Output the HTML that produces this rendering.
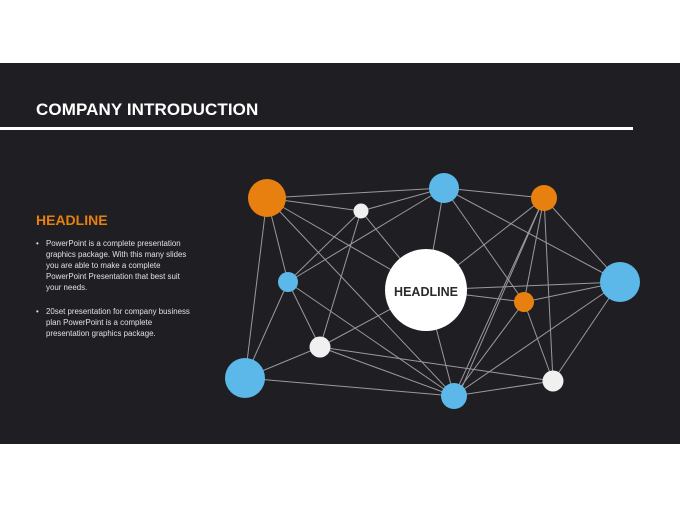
<!DOCTYPE html>
<html><head><meta charset="utf-8"><style>
body{margin:0;width:680px;height:510px;background:#fff;position:relative;overflow:hidden;font-family:"Liberation Sans",sans-serif}
.band{position:absolute;left:0;top:63px;width:680px;height:381px;background:#1f1e23}
.title{position:absolute;left:36px;top:100px;color:#fff;font-size:17px;font-weight:bold;letter-spacing:0.1px}
.rule{position:absolute;left:0;top:127px;width:633px;height:3px;background:#fff}
.hd{position:absolute;left:36px;top:212px;color:#e8800f;font-size:14px;font-weight:bold}
ul{position:absolute;left:36px;top:238px;margin:0;padding:0 0 0 10px;width:200px;color:#e0e0e0;font-size:7.9px;line-height:11px;list-style:none;white-space:nowrap}
li{position:relative;margin-bottom:13px}
li:before{content:"•";position:absolute;left:-10px}
</style></head><body>
<div class="band"></div>
<div class="title">COMPANY INTRODUCTION</div>
<div class="rule"></div>
<div class="hd">HEADLINE</div>
<ul><li>PowerPoint is a complete presentation<br>graphics package. With this many slides<br>you are able to make a complete<br>PowerPoint Presentation that best suit<br>your needs.</li>
<li>20set presentation for company business<br>plan PowerPoint is a complete<br>presentation graphics package.</li></ul>
<svg width="680" height="510" style="position:absolute;left:0;top:0">
<g stroke="#9a9a9e" stroke-width="1">
<line x1="267" y1="198" x2="444" y2="188"/><line x1="267" y1="198" x2="361" y2="211"/>
<line x1="267" y1="198" x2="245" y2="378"/><line x1="267" y1="198" x2="288" y2="282"/>
<line x1="267" y1="198" x2="426" y2="290"/><line x1="267" y1="198" x2="454" y2="396"/>
<line x1="361" y1="211" x2="444" y2="188"/><line x1="361" y1="211" x2="288" y2="282"/>
<line x1="361" y1="211" x2="320" y2="347"/><line x1="361" y1="211" x2="426" y2="290"/>
<line x1="444" y1="188" x2="288" y2="282"/><line x1="444" y1="188" x2="426" y2="290"/>
<line x1="444" y1="188" x2="544" y2="198"/><line x1="444" y1="188" x2="524" y2="302"/>
<line x1="444" y1="188" x2="620" y2="282"/>
<line x1="544" y1="198" x2="426" y2="290"/><line x1="544" y1="198" x2="454" y2="396"/>
<line x1="544" y1="198" x2="524" y2="302"/><line x1="544" y1="198" x2="553" y2="381"/>
<line x1="544" y1="198" x2="620" y2="282"/><line x1="544" y1="198" x2="460" y2="392"/>
<line x1="288" y1="282" x2="245" y2="378"/><line x1="288" y1="282" x2="320" y2="347"/>
<line x1="288" y1="282" x2="454" y2="396"/>
<line x1="320" y1="347" x2="553" y2="381"/>
<line x1="426" y1="290" x2="620" y2="282"/><line x1="426" y1="290" x2="524" y2="302"/>
<line x1="426" y1="290" x2="320" y2="347"/><line x1="426" y1="290" x2="454" y2="396"/>
<line x1="524" y1="302" x2="620" y2="282"/><line x1="524" y1="302" x2="454" y2="396"/>
<line x1="524" y1="302" x2="553" y2="381"/>
<line x1="620" y1="282" x2="454" y2="396"/><line x1="620" y1="282" x2="553" y2="381"/>
<line x1="320" y1="347" x2="245" y2="378"/><line x1="320" y1="347" x2="454" y2="396"/>
<line x1="245" y1="378" x2="454" y2="396"/><line x1="454" y1="396" x2="553" y2="381"/>
</g>
<circle cx="267" cy="198" r="19" fill="#e8800f"/>
<circle cx="361" cy="211" r="7.5" fill="#f0f0f0"/>
<circle cx="444" cy="188" r="15" fill="#5bb8e8"/>
<circle cx="544" cy="198" r="13" fill="#e8800f"/>
<circle cx="288" cy="282" r="10" fill="#5bb8e8"/>
<circle cx="426" cy="290" r="41" fill="#fff"/>
<circle cx="524" cy="302" r="10" fill="#e8800f"/>
<circle cx="620" cy="282" r="20" fill="#5bb8e8"/>
<circle cx="320" cy="347" r="10.5" fill="#f0f0f0"/>
<circle cx="245" cy="378" r="20" fill="#5bb8e8"/>
<circle cx="454" cy="396" r="13" fill="#5bb8e8"/>
<circle cx="553" cy="381" r="10.5" fill="#f0f0f0"/>
<text x="426" y="296" text-anchor="middle" font-family="Liberation Sans, sans-serif" font-size="12.5" font-weight="bold" fill="#2a2a2e">HEADLINE</text>
</svg>
</body></html>
